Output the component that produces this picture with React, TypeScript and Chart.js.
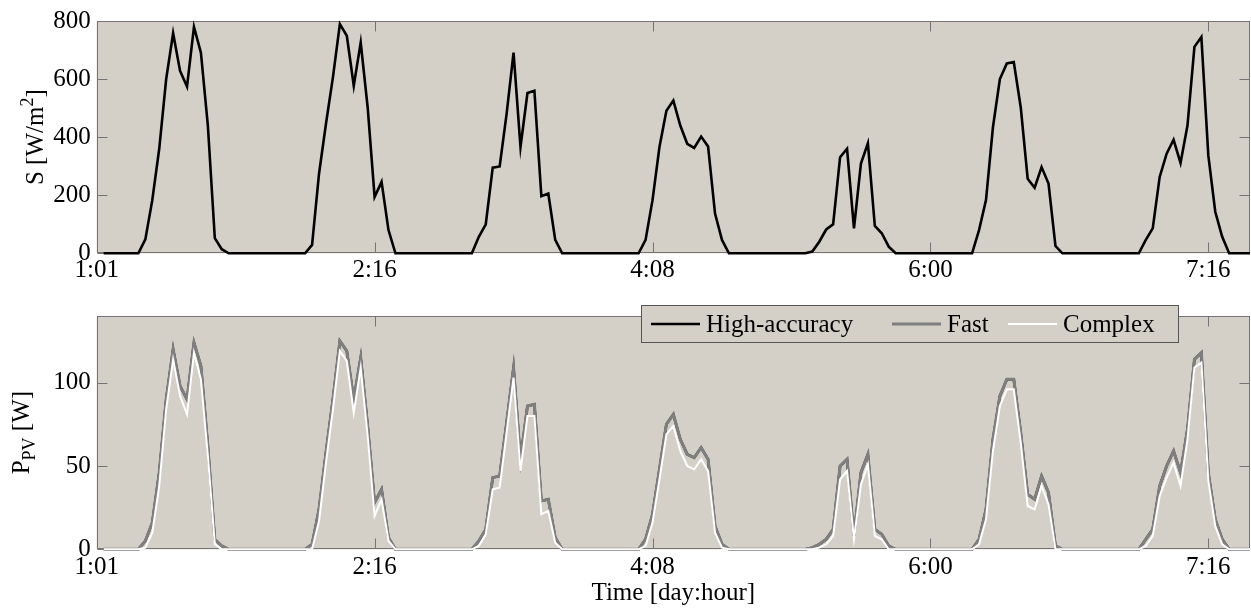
import React, { useEffect, useRef } from 'react';
import { Chart, registerables } from 'chart.js';

Chart.register(...registerables);

// ---------------- data ----------------
const FIRST_HOUR = 1;
const LAST_HOUR = 166;
const DAY_FIRST_HOUR = 5; // each day table below starts at 05:00 and ends at 19:00

// Solar irradiance S [W/m2], one row per day, hours 05..19
const IRRADIANCE = [
  [0, 0, 48, 183, 360, 600, 758, 628, 574, 780, 691, 440, 52, 14, 0],
  [0, 0, 29, 274, 446, 606, 789, 749, 577, 726, 503, 194, 246, 80, 0],
  [0, 0, 57, 100, 295, 299, 480, 691, 366, 552, 560, 197, 206, 46, 0],
  [0, 0, 46, 183, 366, 491, 526, 440, 377, 363, 402, 368, 137, 46, 0],
  [0, 0, 6, 40, 82, 100, 331, 360, 86, 309, 379, 94, 69, 23, 0],
  [0, 0, 80, 183, 434, 600, 654, 659, 503, 257, 226, 297, 240, 25, 0],
  [0, 0, 46, 86, 263, 343, 391, 311, 440, 711, 745, 337, 143, 57, 0],
];

// PV power P_PV [W], hours 05..19
const P_HIGH_ACCURACY = [
  [0, 0, 5, 16, 46, 90, 120, 98, 90, 124, 110, 62, 6, 2, 0],
  [0, 0, 3, 24, 58, 90, 125, 119, 90, 115, 74, 28, 36, 7, 0],
  [0, 0, 5, 12, 43, 44, 76, 109, 54, 86, 87, 29, 30, 7, 0],
  [0, 0, 6, 21, 48, 75, 81, 66, 57, 55, 61, 54, 14, 3, 0],
  [0, 0, 1, 3, 6, 12, 50, 54, 8, 46, 57, 12, 9, 2, 0],
  [0, 0, 6, 24, 66, 92, 102, 102, 70, 33, 30, 44, 34, 2, 0],
  [0, 0, 6, 12, 38, 50, 59, 46, 72, 114, 118, 46, 18, 6, 0],
];
const P_FAST = [
  [0, 0, 5, 16, 46, 90, 120, 98, 90, 124, 110, 62, 6, 2, 0],
  [0, 0, 3, 24, 58, 90, 125, 119, 90, 115, 74, 28, 36, 7, 0],
  [0, 0, 5, 12, 43, 44, 76, 109, 54, 86, 87, 29, 30, 7, 0],
  [0, 0, 6, 21, 48, 75, 81, 66, 57, 55, 61, 54, 14, 3, 0],
  [0, 0, 1, 3, 6, 12, 50, 54, 8, 46, 57, 12, 9, 2, 0],
  [0, 0, 6, 24, 66, 92, 102, 102, 70, 33, 30, 44, 34, 2, 0],
  [0, 0, 6, 12, 38, 50, 59, 46, 72, 114, 118, 46, 18, 6, 0],
];
const P_COMPLEX = [
  [0, 0, 1, 10, 38, 84, 114, 92, 81, 118, 102, 56, 3, 0, 0],
  [0, 0, 0, 17, 52, 84, 119, 113, 82, 109, 68, 20, 30, 5, 0],
  [0, 0, 2, 9, 36, 37, 70, 103, 47, 80, 80, 21, 23, 4, 0],
  [0, 0, 2, 16, 42, 69, 74, 59, 50, 48, 54, 47, 10, 1, 0],
  [0, 0, 0, 1, 3, 8, 42, 47, 6, 39, 51, 8, 6, 0, 0],
  [0, 0, 3, 18, 59, 86, 96, 96, 64, 26, 24, 38, 27, 0, 0],
  [0, 0, 2, 8, 32, 43, 52, 38, 66, 109, 112, 41, 14, 3, 0],
];

const SERIES_LABELS = ['High-accuracy', 'Fast', 'Complex'];
const X_MIN = 0;
const X_MAX = 166;
const X_TICK_HOURS = [0, 40, 80, 120, 160];
const X_TICK_LABELS = ['1:01', '2:16', '4:08', '6:00', '7:16'];
const X_TITLE = 'Time [day:hour]';
const S_TICKS = [0, 200, 400, 600, 800];
const S_MAX = 800;
const P_TICKS = [0, 50, 100];
const P_MAX = 140;
const S_TITLE_PARTS: [string, string][] = [['S [W/m', ''], ['2', 'sup'], [']', '']];
const P_TITLE_PARTS: [string, string][] = [['P', ''], ['PV', 'sub'], [' [W]', '']];

// ---------------- styles ----------------
const FONT_FAMILY = '"Liberation Serif", "Times New Roman", serif';
const FONT_SIZE = 25;
const SMALL_SIZE = 18;
const PLOT_BG = '#d4d0c8';
const FRAME_COLOR = '#747474';
const TICK_LEN = 10;
const LINE_COLORS = ['#000000', '#7f7f7f', '#ffffff'];
const LINE_WIDTHS = [2.5, 3, 2];

function buildSeries(table: number[][]) {
  const pts: { x: number; y: number }[] = [];
  for (let h = FIRST_HOUR; h <= LAST_HOUR; h++) {
    const day = Math.floor(h / 24);
    const k = (h % 24) - DAY_FIRST_HOUR;
    const row = table[day];
    const y = row && k >= 0 && k < row.length ? row[k] : 0;
    pts.push({ x: h, y });
  }
  return pts;
}

const framePlugin = {
  id: 'matlabFrame',
  beforeDraw(chart: any) {
    const { ctx, chartArea: a } = chart;
    ctx.save();
    ctx.fillStyle = PLOT_BG;
    ctx.fillRect(a.left, a.top, a.right - a.left, a.bottom - a.top);
    ctx.restore();
  },
  beforeDatasetsDraw(chart: any) {
    const { ctx, chartArea: a, scales } = chart;
    ctx.save();
    ctx.strokeStyle = FRAME_COLOR;
    ctx.lineWidth = 1;
    const L = Math.round(a.left) + 0.5;
    const R = Math.round(a.right) - 0.5;
    const T = Math.round(a.top) + 0.5;
    const B = Math.round(a.bottom) - 0.5;
    ctx.strokeRect(L, T, R - L, B - T);
    ctx.beginPath();
    scales.x.ticks.forEach((t: any) => {
      const px = Math.round(scales.x.getPixelForValue(t.value)) + 0.5;
      ctx.moveTo(px, B);
      ctx.lineTo(px, B - TICK_LEN);
      ctx.moveTo(px, T);
      ctx.lineTo(px, T + TICK_LEN);
    });
    scales.y.ticks.forEach((t: any) => {
      const py = Math.round(scales.y.getPixelForValue(t.value)) + 0.5;
      ctx.moveTo(L, py);
      ctx.lineTo(L + TICK_LEN, py);
      ctx.moveTo(R, py);
      ctx.lineTo(R - TICK_LEN, py);
    });
    ctx.stroke();
    ctx.restore();
  },
};

const yTitlePlugin = {
  id: 'yTitle',
  afterDraw(chart: any, _args: any, opts: any) {
    const { ctx, chartArea } = chart;
    const parts: [string, string][] = opts.parts;
    const cy = (chartArea.top + chartArea.bottom) / 2;
    ctx.save();
    ctx.translate(opts.x, cy);
    ctx.rotate(-Math.PI / 2);
    const fontFor = (s: string) => `${s ? SMALL_SIZE : FONT_SIZE}px ${FONT_FAMILY}`;
    let total = 0;
    parts.forEach(([t, s]) => {
      ctx.font = fontFor(s);
      total += ctx.measureText(t).width;
    });
    let x = -total / 2;
    ctx.fillStyle = '#000';
    ctx.textBaseline = 'alphabetic';
    ctx.textAlign = 'left';
    parts.forEach(([t, s]) => {
      ctx.font = fontFor(s);
      const dy = s === 'sup' ? -10 : s === 'sub' ? 6 : 0;
      ctx.fillText(t, x, dy);
      x += ctx.measureText(t).width;
    });
    ctx.restore();
  },
};

const boxLegendPlugin = {
  id: 'boxLegend',
  afterDraw(chart: any, _args: any, opts: any) {
    if (!opts || !opts.show) return;
    const { ctx } = chart;
    const { left, top, right, bottom, itemX } = opts;
    ctx.save();
    ctx.fillStyle = PLOT_BG;
    ctx.fillRect(left, top, right - left, bottom - top);
    ctx.strokeStyle = '#555555';
    ctx.lineWidth = 1;
    ctx.strokeRect(left + 0.5, top + 0.5, right - left - 1, bottom - top - 1);
    const cy = (top + bottom) / 2;
    chart.data.datasets.forEach((ds: any, i: number) => {
      const x0 = itemX[i];
      ctx.strokeStyle = ds.borderColor;
      ctx.lineWidth = ds.borderWidth;
      ctx.beginPath();
      ctx.moveTo(x0, cy);
      ctx.lineTo(x0 + 49, cy);
      ctx.stroke();
      ctx.fillStyle = '#000';
      ctx.font = `${FONT_SIZE}px ${FONT_FAMILY}`;
      ctx.textBaseline = 'middle';
      ctx.textAlign = 'left';
      ctx.fillText(ds.label, x0 + 55, cy + 1);
    });
    ctx.restore();
  },
};

function xScale(height: number, padding: number, withTitle: boolean) {
  return {
    type: 'linear',
    min: X_MIN,
    max: X_MAX,
    afterBuildTicks: (s: any) => {
      s.ticks = X_TICK_HOURS.map((v) => ({ value: v }));
    },
    afterFit: (s: any) => {
      s.height = height;
    },
    grid: { display: false, drawTicks: false, tickLength: 0 },
    border: { display: false },
    ticks: {
      autoSkip: false,
      maxRotation: 0,
      minRotation: 0,
      padding,
      color: '#000',
      font: { family: FONT_FAMILY, size: FONT_SIZE },
      callback: (v: any) => {
        const i = X_TICK_HOURS.indexOf(Number(v));
        return i >= 0 ? X_TICK_LABELS[i] : '';
      },
    },
    title: {
      display: withTitle,
      text: X_TITLE,
      color: '#000',
      font: { family: FONT_FAMILY, size: FONT_SIZE },
      padding: { top: 0, bottom: 2 },
    },
  };
}

function yScale(max: number, ticks: number[], width: number) {
  return {
    type: 'linear',
    min: 0,
    max,
    afterBuildTicks: (s: any) => {
      s.ticks = ticks.map((v) => ({ value: v }));
    },
    afterFit: (s: any) => {
      s.width = width;
    },
    grid: { display: false, drawTicks: false, tickLength: 0 },
    border: { display: false },
    ticks: {
      padding: 6,
      color: '#000',
      font: { family: FONT_FAMILY, size: FONT_SIZE },
    },
  };
}

export default function App() {
  const topRef = useRef<HTMLCanvasElement>(null);
  const botRef = useRef<HTMLCanvasElement>(null);

  useEffect(() => {
    const top = new Chart(topRef.current as HTMLCanvasElement, {
      type: 'line',
      data: {
        datasets: [
          {
            label: 'S',
            data: buildSeries(IRRADIANCE),
            borderColor: '#000000',
            borderWidth: 2.6,
            pointRadius: 0,
            tension: 0,
            fill: false,
            clip: false,
          } as any,
        ],
      },
      options: {
        responsive: false,
        animation: false,
        events: [],
        layout: { padding: { top: 20, right: 1, left: 0, bottom: 0 } },
        plugins: {
          legend: { display: false },
          tooltip: { enabled: false },
          yTitle: { x: 43, parts: S_TITLE_PARTS },
        } as any,
        scales: {
          x: xScale(31.7, 2, false),
          y: yScale(S_MAX, S_TICKS, 96.7),
        } as any,
      },
      plugins: [framePlugin, yTitlePlugin],
    });

    const seriesTables = [P_HIGH_ACCURACY, P_FAST, P_COMPLEX];
    const bottom = new Chart(botRef.current as HTMLCanvasElement, {
      type: 'line',
      data: {
        datasets: seriesTables.map((tbl, i) => ({
          label: SERIES_LABELS[i],
          data: buildSeries(tbl),
          borderColor: LINE_COLORS[i],
          borderWidth: LINE_WIDTHS[i],
          pointRadius: 0,
          tension: 0,
          fill: false,
          clip: false,
          order: 3 - i,
        })) as any,
      },
      options: {
        responsive: false,
        animation: false,
        events: [],
        layout: { padding: { top: 31, right: 1, left: 0, bottom: 0 } },
        plugins: {
          legend: { display: false },
          tooltip: { enabled: false },
          yTitle: { x: 29, parts: P_TITLE_PARTS },
          boxLegend: { show: true, left: 641, top: 20, right: 1179, bottom: 58, itemX: [651, 892, 1008] },
        } as any,
        scales: {
          x: xScale(60.7, 3.5, true),
          y: yScale(P_MAX, P_TICKS, 96.7),
        } as any,
      },
      plugins: [framePlugin, yTitlePlugin, boxLegendPlugin],
    });

    return () => {
      top.destroy();
      bottom.destroy();
    };
  }, []);

  return (
    <div style={{ position: 'absolute', left: 0, top: 0, width: 1251, height: 610, background: '#fff' }}>
      <canvas ref={topRef} width={1251} height={285} style={{ display: 'block', width: 1251, height: 285 }} />
      <canvas ref={botRef} width={1251} height={325} style={{ display: 'block', width: 1251, height: 325 }} />
    </div>
  );
}
